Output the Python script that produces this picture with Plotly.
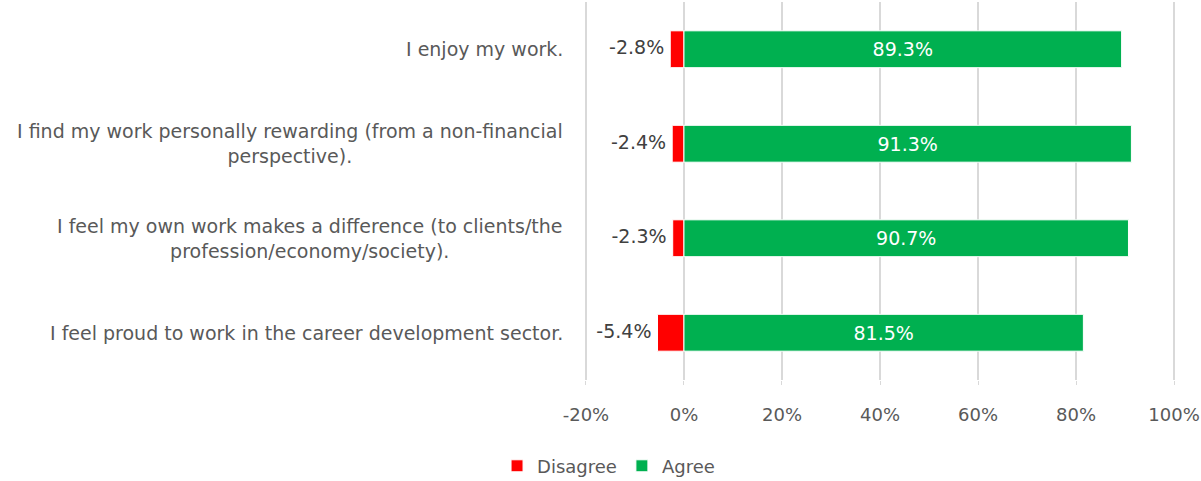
import plotly.graph_objects as go

statements = [
    "I enjoy my work.",
    "I find my work personally rewarding (from a non-financial<br>perspective).",
    "I feel my own work makes a difference (to clients/the<br>profession/economy/society).",
    "I feel proud to work in the career development sector.",
]
disagree = [-2.8, -2.4, -2.3, -5.4]
agree = [89.3, 91.3, 90.7, 81.5]
tick_vals = [-20, 0, 20, 40, 60, 80, 100]
tick_text = ["-20%", "0%", "20%", "40%", "60%", "80%", "100%"]

FONT = "DejaVu Sans, sans-serif"
cats = list(range(len(statements)))

fig = go.Figure()
fig.add_trace(go.Bar(
    y=cats, x=disagree, orientation="h", name="Disagree",
    marker=dict(color="#FF0000", line=dict(color="white", width=1)),
))
fig.add_trace(go.Bar(
    y=cats, x=agree, orientation="h", name="Agree",
    marker=dict(color="#00B050", line=dict(color="white", width=1)),
    text=[f"{v:.1f}%" for v in agree], textposition="inside",
    insidetextanchor="middle", textfont=dict(color="white", size=19, family=FONT),
))
# labels for the disagree bars, left of the bar
fig.add_trace(go.Scatter(
    y=cats, x=disagree, mode="text", showlegend=False, hoverinfo="skip",
    text=[f"{v:.1f}% " for v in disagree], textposition="middle left",
    textfont=dict(color="#404040", size=19, family=FONT),
))

# category labels: right-aligned block, centred lines (Excel style)
for i, s in enumerate(statements):
    fig.add_annotation(
        x=0, xref="paper", xanchor="right", xshift=-18,
        y=i, yref="y", text=s, showarrow=False, align="center",
        font=dict(color="#595959", size=19, family=FONT),
    )

fig.update_layout(
    barmode="relative",
    bargap=0.61,
    width=1201, height=481,
    margin=dict(l=583, r=24, t=2, b=101),
    paper_bgcolor="white", plot_bgcolor="white",
    font=dict(family=FONT, color="#595959", size=18),
    xaxis=dict(
        range=[-20.6, 100.6], tickvals=tick_vals, ticktext=tick_text,
        showgrid=True, gridcolor="#D9D9D9", gridwidth=1.5, zeroline=False,
        ticks="outside", ticklen=4, tickcolor="#D9D9D9",
        ticklabelstandoff=14, tickfont=dict(size=18, color="#595959"),
    ),
    yaxis=dict(
        range=[3.5, -0.5], showticklabels=False, showgrid=False,
        zeroline=False, ticks="",
    ),
    legend=dict(
        orientation="h", x=0.043, xanchor="center",
        yref="container", y=0.031, yanchor="middle",
        font=dict(size=18, color="#595959"), traceorder="normal",
    ),
)

fig.write_html("out.html", config={"displayModeBar": False},
               post_script="document.body.style.margin='0';")
